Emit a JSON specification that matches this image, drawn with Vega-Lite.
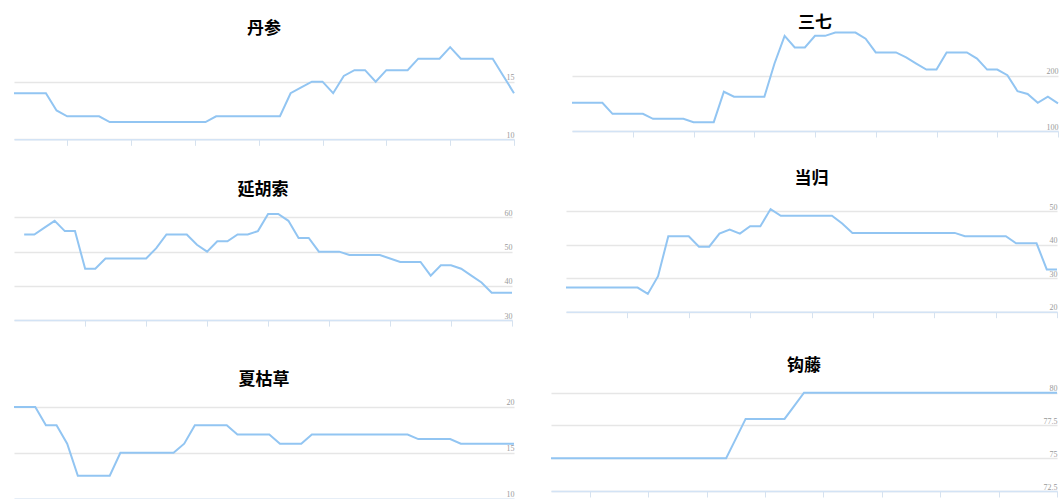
{
  "$schema": "https://vega.github.io/schema/vega-lite/v6.json",
  "background": "white",
  "padding": {"left": 10, "top": 13, "right": 0, "bottom": 0},
  "config": {
    "view": {"stroke": null},
    "title": {"fontSize": 17, "font": "Noto Sans CJK SC", "fontWeight": "bold", "color": "#000000", "anchor": "middle"},
    "axisY": {"orient": "right", "grid": true, "domain": false, "ticks": false, "labelAlign": "right", "labelPadding": 0, "labelBaseline": "bottom", "title": null, "labelFontSize": 8, "labelColor": "#9a9a9a", "labelFont": "Liberation Sans Narrow", "gridColor": "#e6e6e6", "gridWidth": 1.3, "format": ".1~f"},
    "axisX": {"labels": false, "grid": false, "ticks": true, "tickColor": "#d6e2ef", "tickSize": 6, "tickWidth": 1, "domainColor": "#d3e3f5", "domainWidth": 1.5, "title": null}
  },
  "datasets": {
    "danshen": [
      {"i":0,"v":14},{"i":1,"v":14},{"i":2,"v":14},{"i":3,"v":14},{"i":4,"v":12.5},{"i":5,"v":12},{"i":6,"v":12},{"i":7,"v":12},{"i":8,"v":12},{"i":9,"v":11.5},
      {"i":10,"v":11.5},{"i":11,"v":11.5},{"i":12,"v":11.5},{"i":13,"v":11.5},{"i":14,"v":11.5},{"i":15,"v":11.5},{"i":16,"v":11.5},{"i":17,"v":11.5},{"i":18,"v":11.5},{"i":19,"v":12},
      {"i":20,"v":12},{"i":21,"v":12},{"i":22,"v":12},{"i":23,"v":12},{"i":24,"v":12},{"i":25,"v":12},{"i":26,"v":14},{"i":27,"v":14.5},{"i":28,"v":15},{"i":29,"v":15},
      {"i":30,"v":14},{"i":31,"v":15.5},{"i":32,"v":16},{"i":33,"v":16},{"i":34,"v":15},{"i":35,"v":16},{"i":36,"v":16},{"i":37,"v":16},{"i":38,"v":17},{"i":39,"v":17},
      {"i":40,"v":17},{"i":41,"v":18},{"i":42,"v":17},{"i":43,"v":17},{"i":44,"v":17},{"i":45,"v":17},{"i":46,"v":15.5},{"i":47,"v":14}
    ],
    "sanqi": [
      {"i":0,"v":151},{"i":1,"v":151},{"i":2,"v":151},{"i":3,"v":151},{"i":4,"v":131},{"i":5,"v":131},{"i":6,"v":131},{"i":7,"v":131},{"i":8,"v":122},{"i":9,"v":122},
      {"i":10,"v":122},{"i":11,"v":122},{"i":12,"v":116},{"i":13,"v":116},{"i":14,"v":116},{"i":15,"v":171},{"i":16,"v":162},{"i":17,"v":162},{"i":18,"v":162},{"i":19,"v":162},
      {"i":20,"v":222},{"i":21,"v":272},{"i":22,"v":251},{"i":23,"v":251},{"i":24,"v":272},{"i":25,"v":272},{"i":26,"v":278},{"i":27,"v":278},{"i":28,"v":278},{"i":29,"v":267},
      {"i":30,"v":242},{"i":31,"v":242},{"i":32,"v":242},{"i":33,"v":233},{"i":34,"v":222},{"i":35,"v":211},{"i":36,"v":211},{"i":37,"v":242},{"i":38,"v":242},{"i":39,"v":242},
      {"i":40,"v":231},{"i":41,"v":211},{"i":42,"v":211},{"i":43,"v":201},{"i":44,"v":172},{"i":45,"v":167},{"i":46,"v":151},{"i":47,"v":162},{"i":48,"v":150}
    ],
    "yanhusuo": [
      {"i":0,"v":55},{"i":1,"v":55},{"i":2,"v":57},{"i":3,"v":59},{"i":4,"v":56},{"i":5,"v":56},{"i":6,"v":45},{"i":7,"v":45},{"i":8,"v":48},{"i":9,"v":48},
      {"i":10,"v":48},{"i":11,"v":48},{"i":12,"v":48},{"i":13,"v":51},{"i":14,"v":55},{"i":15,"v":55},{"i":16,"v":55},{"i":17,"v":52},{"i":18,"v":50},{"i":19,"v":53},
      {"i":20,"v":53},{"i":21,"v":55},{"i":22,"v":55},{"i":23,"v":56},{"i":24,"v":61},{"i":25,"v":61},{"i":26,"v":59},{"i":27,"v":54},{"i":28,"v":54},{"i":29,"v":50},
      {"i":30,"v":50},{"i":31,"v":50},{"i":32,"v":49},{"i":33,"v":49},{"i":34,"v":49},{"i":35,"v":49},{"i":36,"v":48},{"i":37,"v":47},{"i":38,"v":47},{"i":39,"v":47},
      {"i":40,"v":43},{"i":41,"v":46},{"i":42,"v":46},{"i":43,"v":45},{"i":44,"v":43},{"i":45,"v":41},{"i":46,"v":38},{"i":47,"v":38},{"i":48,"v":38}
    ],
    "danggui": [
      {"i":0,"v":27.2},{"i":1,"v":27.2},{"i":2,"v":27.2},{"i":3,"v":27.2},{"i":4,"v":27.2},{"i":5,"v":27.2},{"i":6,"v":27.2},{"i":7,"v":27.2},{"i":8,"v":25.3},{"i":9,"v":30.6},
      {"i":10,"v":42.5},{"i":11,"v":42.5},{"i":12,"v":42.5},{"i":13,"v":39.4},{"i":14,"v":39.4},{"i":15,"v":43.3},{"i":16,"v":44.5},{"i":17,"v":43.3},{"i":18,"v":45.5},{"i":19,"v":45.5},
      {"i":20,"v":50.6},{"i":21,"v":48.6},{"i":22,"v":48.6},{"i":23,"v":48.6},{"i":24,"v":48.6},{"i":25,"v":48.6},{"i":26,"v":48.6},{"i":27,"v":46.3},{"i":28,"v":43.5},{"i":29,"v":43.5},
      {"i":30,"v":43.5},{"i":31,"v":43.5},{"i":32,"v":43.5},{"i":33,"v":43.5},{"i":34,"v":43.5},{"i":35,"v":43.5},{"i":36,"v":43.5},{"i":37,"v":43.5},{"i":38,"v":43.5},{"i":39,"v":42.5},
      {"i":40,"v":42.5},{"i":41,"v":42.5},{"i":42,"v":42.5},{"i":43,"v":42.5},{"i":44,"v":40.4},{"i":45,"v":40.4},{"i":46,"v":40.4},{"i":47,"v":32.6},{"i":48,"v":32.6}
    ],
    "xiakucao": [
      {"i":0,"v":20},{"i":1,"v":20},{"i":2,"v":20},{"i":3,"v":18},{"i":4,"v":18},{"i":5,"v":16},{"i":6,"v":12.5},{"i":7,"v":12.5},{"i":8,"v":12.5},{"i":9,"v":12.5},
      {"i":10,"v":15},{"i":11,"v":15},{"i":12,"v":15},{"i":13,"v":15},{"i":14,"v":15},{"i":15,"v":15},{"i":16,"v":16},{"i":17,"v":18},{"i":18,"v":18},{"i":19,"v":18},
      {"i":20,"v":18},{"i":21,"v":17},{"i":22,"v":17},{"i":23,"v":17},{"i":24,"v":17},{"i":25,"v":16},{"i":26,"v":16},{"i":27,"v":16},{"i":28,"v":17},{"i":29,"v":17},
      {"i":30,"v":17},{"i":31,"v":17},{"i":32,"v":17},{"i":33,"v":17},{"i":34,"v":17},{"i":35,"v":17},{"i":36,"v":17},{"i":37,"v":17},{"i":38,"v":16.5},{"i":39,"v":16.5},
      {"i":40,"v":16.5},{"i":41,"v":16.5},{"i":42,"v":16},{"i":43,"v":16},{"i":44,"v":16},{"i":45,"v":16},{"i":46,"v":16},{"i":47,"v":16}
    ],
    "gouteng": [
      {"i":0,"v":75},{"i":1,"v":75},{"i":2,"v":75},{"i":3,"v":75},{"i":4,"v":75},{"i":5,"v":75},{"i":6,"v":75},{"i":7,"v":75},{"i":8,"v":75},{"i":9,"v":75},
      {"i":10,"v":75},{"i":11,"v":75},{"i":12,"v":75},{"i":13,"v":75},{"i":14,"v":75},{"i":15,"v":75},{"i":16,"v":75},{"i":17,"v":75},{"i":18,"v":75},{"i":19,"v":76.5},
      {"i":20,"v":78},{"i":21,"v":78},{"i":22,"v":78},{"i":23,"v":78},{"i":24,"v":78},{"i":25,"v":79},{"i":26,"v":80},{"i":27,"v":80},{"i":28,"v":80},{"i":29,"v":80},
      {"i":30,"v":80},{"i":31,"v":80},{"i":32,"v":80},{"i":33,"v":80},{"i":34,"v":80},{"i":35,"v":80},{"i":36,"v":80},{"i":37,"v":80},{"i":38,"v":80},{"i":39,"v":80},
      {"i":40,"v":80},{"i":41,"v":80},{"i":42,"v":80},{"i":43,"v":80},{"i":44,"v":80},{"i":45,"v":80},{"i":46,"v":80},{"i":47,"v":80},{"i":48,"v":80},{"i":49,"v":80},
      {"i":50,"v":80},{"i":51,"v":80},{"i":52,"v":80}
    ]
  },
  "spacing": 24,
  "vconcat": [
    {
      "bounds": "flush",
      "spacing": 58,
      "hconcat": [
        {
          "title": {"text": "丹参", "offset": -7},
          "width": 500, "height": 108.3,
          "data": {"name": "danshen"},
          "mark": {"type": "line", "color": "#92c5f2", "strokeWidth": 2},
          "encoding": {
            "x": {"field": "i", "type": "quantitative", "scale": {"domain": [0, 47], "nice": false, "zero": false}, "axis": {"values": [5, 11, 17, 23, 29, 35, 41, 47]}},
            "y": {"field": "v", "type": "quantitative", "scale": {"domain": [10, 19.4], "nice": false, "zero": false}, "axis": {"values": [10, 15]}}
          }
        },
        {
          "title": {"text": "三七", "offset": -3},
          "width": 486, "height": 100,
          "data": {"name": "sanqi"},
          "mark": {"type": "line", "color": "#92c5f2", "strokeWidth": 2},
          "encoding": {
            "x": {"field": "i", "type": "quantitative", "scale": {"domain": [0, 48], "nice": false, "zero": false}, "axis": {"values": [6, 12, 18, 24, 30, 36, 42, 48]}},
            "y": {"field": "v", "type": "quantitative", "scale": {"domain": [100, 280.8], "nice": false, "zero": false}, "axis": {"values": [100, 200]}}
          }
        }
      ]
    },
    {
      "bounds": "flush",
      "spacing": 54,
      "hconcat": [
        {
          "title": {"text": "延胡索", "offset": 6.6},
          "width": 498, "height": 114.1,
          "data": {"name": "yanhusuo"},
          "mark": {"type": "line", "color": "#92c5f2", "strokeWidth": 2},
          "encoding": {
            "x": {"field": "i", "type": "quantitative", "scale": {"domain": [-1, 48], "nice": false, "zero": false}, "axis": {"values": [6, 12, 18, 24, 30, 36, 42, 48], "minExtent": 11}},
            "y": {"field": "v", "type": "quantitative", "scale": {"domain": [30, 63.33], "nice": false, "zero": false}, "axis": {"values": [30, 40, 50, 60]}}
          }
        },
        {
          "title": {"text": "当归", "offset": 14.6},
          "width": 491, "height": 105.7,
          "data": {"name": "danggui"},
          "mark": {"type": "line", "color": "#92c5f2", "strokeWidth": 2},
          "encoding": {
            "x": {"field": "i", "type": "quantitative", "scale": {"domain": [0, 48], "nice": false, "zero": false}, "axis": {"values": [6, 12, 18, 24, 30, 36, 42, 48], "minExtent": 11}},
            "y": {"field": "v", "type": "quantitative", "scale": {"domain": [20, 51.52], "nice": false, "zero": false}, "axis": {"values": [20, 30, 40, 50]}}
          }
        }
      ]
    },
    {
      "bounds": "flush",
      "spacing": 37,
      "hconcat": [
        {
          "title": {"text": "夏枯草", "offset": 2},
          "width": 500, "height": 107.7,
          "data": {"name": "xiakucao"},
          "mark": {"type": "line", "color": "#92c5f2", "strokeWidth": 2},
          "encoding": {
            "x": {"field": "i", "type": "quantitative", "scale": {"domain": [0, 47], "nice": false, "zero": false}, "axis": {"values": [5, 11, 17, 23, 29, 35, 41, 47]}},
            "y": {"field": "v", "type": "quantitative", "scale": {"domain": [10, 21.74], "nice": false, "zero": false}, "axis": {"values": [10, 15, 20]}}
          }
        },
        {
          "title": {"text": "钩藤", "offset": 10},
          "width": 506, "height": 100,
          "data": {"name": "gouteng"},
          "mark": {"type": "line", "color": "#92c5f2", "strokeWidth": 2},
          "encoding": {
            "x": {"field": "i", "type": "quantitative", "scale": {"domain": [0, 52], "nice": false, "zero": false}, "axis": {"values": [4, 10, 16, 22, 28, 34, 40, 46, 52]}},
            "y": {"field": "v", "type": "quantitative", "scale": {"domain": [72.5, 80.13], "nice": false, "zero": false}, "axis": {"values": [72.5, 75, 77.5, 80]}}
          }
        }
      ]
    }
  ]
}
